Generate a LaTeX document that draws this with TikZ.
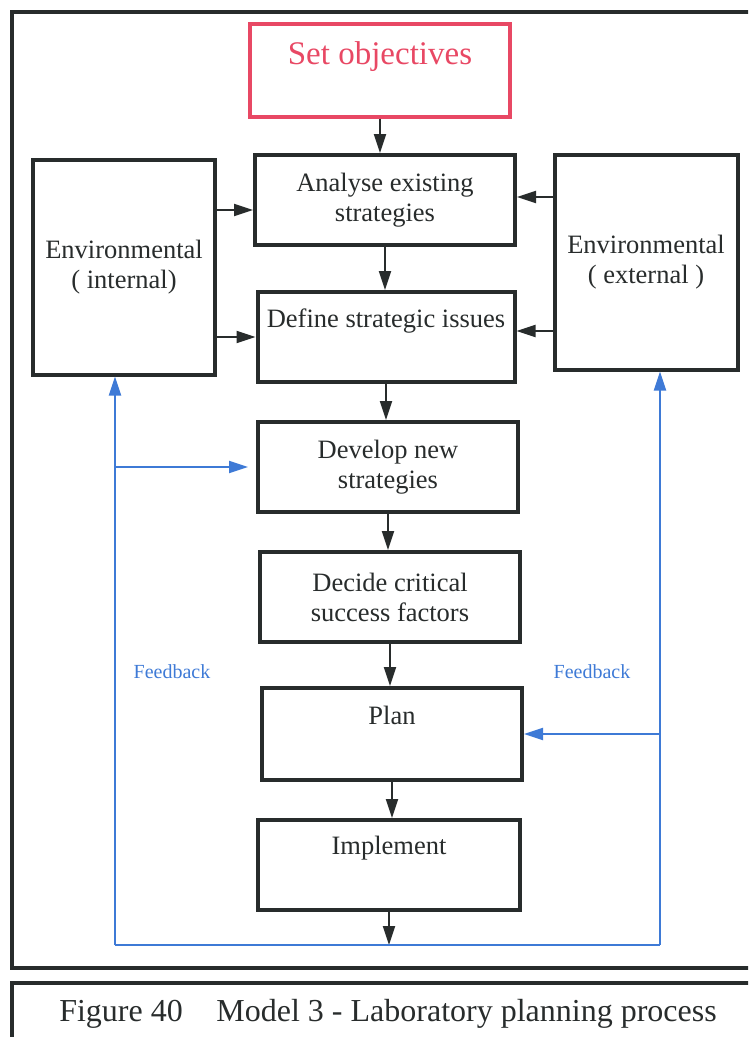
\documentclass[tikz,border=0pt]{standalone}
\usepackage{fontspec}
\setmainfont{Liberation Serif}
\usetikzlibrary{arrows.meta,positioning}

\definecolor{boxline}{RGB}{40,44,44}
\definecolor{goalred}{RGB}{232,72,100}
\definecolor{fbblue}{RGB}{62,122,214}

\begin{document}
\begin{tikzpicture}[%
    >={Triangle[length=19pt,width=12pt]},  % long filled heads
    x=1pt, y=-1pt,                         % one unit per point, y running down
    box/.style={draw=boxline, line width=4pt, text=boxline, align=center,
        minimum width=260pt, minimum height=90pt, inner sep=0pt,
        font=\fontsize{26.5}{30}\selectfont},
    envbox/.style={box, minimum width=182pt, minimum height=215pt},
    goalbox/.style={box, draw=goalred, text=goalred, line width=3.5pt,
        font=\fontsize{33}{38}\selectfont},
    flow/.style={->, draw=boxline, line width=2pt},
    fb/.style={->, draw=fbblue, line width=2pt},
    fbtext/.style={text=fbblue, font=\fontsize{20}{24}\selectfont},
    frame/.style={draw=boxline, line width=3.5pt}
    ]

    \useasboundingbox (0,0) rectangle (748,1037);
    \begin{scope}
    \clip (0,0) rectangle (748,1037);
    \draw[frame] (12,12) rectangle (780,968);
    \draw[frame] (12,983) rectangle (780,1060);
    \end{scope}

    % the planning steps
    \node at (380,22) [goalbox, anchor=north, text height=41pt, text depth=52pt] (goal) {Set objectives};
    \node at (385,200) [box] (analyse) {Analyse existing\\strategies};
    \node at (386,290) [box, anchor=north, minimum width=257pt, text height=34pt, text depth=54pt] (define) {Define strategic issues};
    \node at (388,467) [box] (develop) {Develop new\\strategies};
    \node at (390,597) [box] (decide) {Decide critical\\success factors};
    \node at (392,686) [box, anchor=north, text height=36pt, text depth=56pt] (plan) {Plan};
    \node at (389,818) [box, anchor=north, minimum width=262pt, text height=33pt, text depth=54pt] (implement) {Implement};

    % surroundings
    \node at (124,267) [envbox] (envint) {Environmental\\( internal)};
    \node at (646,262) [envbox, minimum width=183pt] (envext) {Environmental\\( external )};

    \draw[flow] (goal.south) -- (goal.south |- analyse.north);
    \draw[flow] (analyse.south) -- (analyse.south |- define.north);
    \draw[flow] (define.south) -- (define.south |- develop.north);
    \draw[flow] (develop.south) -- (develop.south |- decide.north);
    \draw[flow] (decide.south) -- (decide.south |- plan.north);
    \draw[flow] (plan.south) -- (plan.south |- implement.north);

    \coordinate (ain) at ([yshift=-10pt]analyse.west);
    \coordinate (din) at (define.west);
    \coordinate (aex) at ([yshift=3pt]analyse.east);
    \coordinate (dex) at ([yshift=6pt]define.east);
    \draw[flow] (envint.east |- ain) -- (ain);
    \draw[flow] (envint.east |- din) -- (din);
    \draw[flow] (envext.west |- aex) -- (aex);
    \draw[flow] (envext.west |- dex) -- (dex);

    % feedback loop
    \coordinate (fbl) at (115,945);
    \coordinate (fbr) at (660,945);
    \draw[flow] (implement.south) -- (implement.south |- fbl);
    \draw[draw=fbblue, line width=2pt] (fbl) -- (fbr);
    \draw[fb] (fbl) -- (fbl |- envint.south);
    \draw[fb] (fbr) -- (fbr |- envext.south);
    \draw[fb, shorten >=8pt] (fbl |- develop.west) -- (develop.west);
    \draw[fb] (fbr |- plan.east) -- (plan.east);
    \node at (172,672) [fbtext] (fbleft) {Feedback};
    \node at (592,672) [fbtext] (fbright) {Feedback};

    \node at (388,1014) [text=boxline, font=\fontsize{32}{36}\selectfont] (caption)
        {Figure 40\hspace{0.8em} Model 3 - Laboratory planning process};
\end{tikzpicture}
\end{document}
